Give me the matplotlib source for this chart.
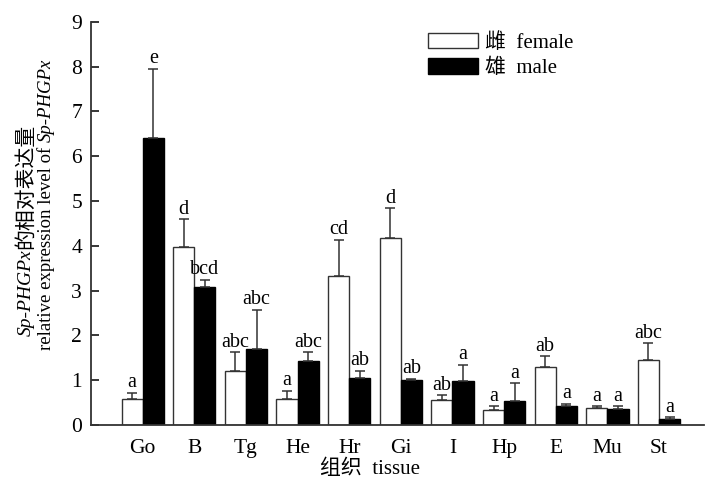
import numpy as np
import matplotlib
matplotlib.use("Agg")
import matplotlib.pyplot as plt

plt.rcParams['font.family'] = ['Liberation Serif', 'Noto Sans CJK SC']

tissues = ['Go', 'B', 'Tg', 'He', 'Hr', 'Gi', 'I', 'Hp', 'E', 'Mu', 'St']
female = [0.57, 3.97, 1.20, 0.59, 3.32, 4.17, 0.56, 0.34, 1.29, 0.37, 1.45]
female_err = [0.15, 0.62, 0.42, 0.18, 0.82, 0.67, 0.11, 0.08, 0.24, 0.05, 0.38]
male = [6.41, 3.07, 1.69, 1.44, 1.06, 1.00, 0.99, 0.53, 0.43, 0.36, 0.14]
male_err = [1.54, 0.17, 0.88, 0.19, 0.15, 0.03, 0.36, 0.41, 0.05, 0.06, 0.04]
female_sig = ['a', 'd', 'abc', 'a', 'cd', 'd', 'ab', 'a', 'ab', 'a', 'abc']
male_sig = ['e', 'bcd', 'abc', 'abc', 'ab', 'ab', 'a', 'a', 'a', 'a', 'a']

x = np.arange(len(tissues))
w = 0.41

fig = plt.figure(figsize=(7.06, 4.83), dpi=100)
ax = fig.add_axes([0.129, 0.12, 0.868, 0.835])

ekw = dict(ecolor='#333333', elinewidth=1.1, capsize=3.3, capthick=1.1)
ax.bar(x - w / 2, female, w, color='white', edgecolor='#333333', linewidth=1.0,
       yerr=[np.zeros(len(x)), female_err], error_kw=ekw, label='雌  female')
ax.bar(x + w / 2, male, w, color='black', edgecolor='black', linewidth=1.0,
       yerr=[np.zeros(len(x)), male_err], error_kw=ekw, label='雄  male')

for i in range(len(x)):
    ax.annotate(female_sig[i], (x[i] - w / 2, female[i] + female_err[i]),
                xytext=(0, 0.3), textcoords='offset points',
                ha='center', va='bottom', fontsize=14.5)
    ax.annotate(male_sig[i], (x[i] + w / 2, male[i] + male_err[i]),
                xytext=(0, 0.3), textcoords='offset points',
                ha='center', va='bottom', fontsize=14.5)

ax.set_xlim(-1.0, 10.87)
ax.set_ylim(0, 9)
ax.set_yticks(range(10))
ax.set_xticks(x)
ax.set_xticklabels(tissues)
ax.tick_params(axis='y', direction='in', length=6, width=1.1, pad=6.5, labelsize=15.5)
ax.tick_params(axis='x', length=0, pad=10, labelsize=15.5)
for s in ['top', 'right']:
    ax.spines[s].set_visible(False)
for s in ['left', 'bottom']:
    ax.spines[s].set_linewidth(1.3)
    ax.spines[s].set_color('#333333')

ax.set_xlabel('组织  tissue', fontsize=15)
ax.xaxis.set_label_coords(0.455, -0.085)

ax.legend(loc='upper left', bbox_to_anchor=(0.52, 1.018), frameon=False,
          fontsize=15, handlelength=2.4, handleheight=0.75,
          handletextpad=0.3, labelspacing=0.25)

# y label: two rotated lines with italic gene names, built from pieces
fig.canvas.draw()
r = fig.canvas.get_renderer()
H = fig.bbox.height
W = fig.bbox.width


def vline(xpx, ycen_from_top, pieces):
    texts = []
    for s, st, fs in pieces:
        t = fig.text(xpx / W, 0, s, rotation=90, style=st, fontsize=fs,
                     ha='center', va='bottom')
        texts.append(t)
    heights = [t.get_window_extent(r).height for t in texts]
    y0 = (H - ycen_from_top) - sum(heights) / 2
    for t, h in zip(texts, heights):
        t.set_y(y0 / H)
        y0 += h


vline(26, 230, [('Sp-PHGPx', 'italic', 14), ('的相对表达量', 'normal', 15)])
vline(46, 204, [('relative expression level of ', 'normal', 13.5),
                ('Sp-PHGPx', 'italic', 13.5)])

fig.savefig('out.png', dpi=100)
